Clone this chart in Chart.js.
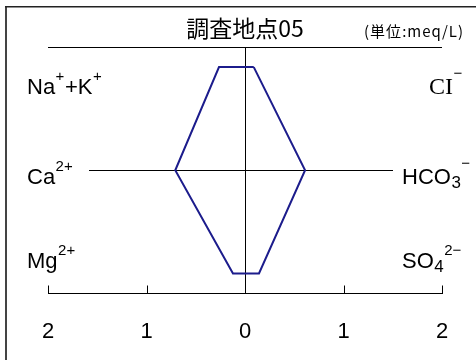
<!DOCTYPE html>
<html><head><meta charset="utf-8">
<script src="https://cdn.jsdelivr.net/npm/chart.js@4.4.1/dist/chart.umd.min.js"></script>
<style>html,body{margin:0;padding:0;background:#fff;} canvas{display:block;}</style>
</head><body>
<canvas id="c" width="476" height="360"></canvas>
<script>
// ---- data ----
const titleText = '調査地点05';
const unitText = '(単位:meq/L)';
// rows top to bottom
const cationNames = [
  [['Na', 'n'], ['+', 'sup'], ['+K', 'n'], ['+', 'sup']],
  [['Ca', 'n'], ['2+', 'sup']],
  [['Mg', 'n'], ['2+', 'sup']]
];
const anionNames = [
  [['CI', 'serif'], ['−', 'supm']],
  [['HCO', 'n'], ['3', 'sub'], ['−', 'supm']],
  [['SO', 'n'], ['4', 'sub'], ['2−', 'sup']]
];
const rows = [0, 1, 2];
const cationValues = [0.264, 0.708, 0.122]; // Na+K, Ca, Mg (meq/L)
const anionValues = [0.089, 0.610, 0.142];  // Cl, HCO3, SO4 (meq/L)
const tickValues = [-2, -1, 0, 1, 2];

// polygon built from values
const polygon = [];
rows.forEach((r, i) => polygon.push({x: anionValues[i], y: r}));
for (let i = rows.length - 1; i >= 0; i--) polygon.push({x: -cationValues[i], y: rows[i]});
polygon.push({x: anionValues[0], y: rows[0]});

const SANS = '"Liberation Sans", Arial, sans-serif';
const SERIF = '"Liberation Serif", "Times New Roman", serif';
const CJK = '"Noto Sans CJK JP", "Noto Sans", sans-serif';

function drawParts(ctx, parts, x, baseline) {
  let cx = x;
  parts.forEach(([t, k]) => {
    let font, dy = 0;
    if (k === 'n') { font = '22px ' + SANS; }
    else if (k === 'serif') { font = '24px ' + SERIF; }
    else if (k === 'sup') { font = '15px ' + SANS; dy = -13; }
    else if (k === 'supm') { font = '15px ' + SANS; dy = -16; }
    else if (k === 'sub') { font = '17px ' + SANS; dy = 4; }
    ctx.font = font;
    ctx.fillText(t, cx, baseline + dy);
    cx += ctx.measureText(t).width + 0.5;
  });
}

const decor = {
  id: 'decor',
  beforeDraw(chart) {
    const ctx = chart.ctx;
    ctx.save();
    ctx.fillStyle = '#fff';
    ctx.fillRect(0, 0, chart.width, chart.height);
    // frame
    ctx.fillStyle = '#444';
    ctx.fillRect(5, 6, 2, chart.height - 6);
    ctx.fillStyle = '#222';
    ctx.fillRect(5, 6, chart.width - 5, 1.5);
    ctx.restore();
  },
  beforeDatasetsDraw(chart) {
    const ctx = chart.ctx, a = chart.chartArea;
    const xs = chart.scales.x, ys = chart.scales.y;
    ctx.save();
    ctx.strokeStyle = '#000';
    ctx.lineWidth = 1;
    const x0 = Math.round(xs.getPixelForValue(0)) + 0.5;
    ctx.beginPath();
    ctx.moveTo(a.left, Math.round(a.top) + 0.5);
    ctx.lineTo(a.right, Math.round(a.top) + 0.5);
    ctx.moveTo(x0, a.top);
    ctx.lineTo(x0, a.bottom);
    const ym = Math.round(ys.getPixelForValue(rows[1])) + 0.5;
    ctx.moveTo(89, ym);
    ctx.lineTo(393, ym);
    xs.ticks.forEach(t => {
      const px = Math.round(xs.getPixelForValue(t.value)) + 0.5;
      ctx.moveTo(px, a.bottom - 8);
      ctx.lineTo(px, a.bottom);
    });
    ctx.stroke();
    ctx.restore();
  },
  afterDraw(chart) {
    const ctx = chart.ctx, a = chart.chartArea;
    const ys = chart.scales.y;
    ctx.save();
    ctx.fillStyle = '#000';
    ctx.font = '23px ' + CJK;
    ctx.textAlign = 'center';
    ctx.textBaseline = 'middle';
    ctx.fillText(titleText, (a.left + a.right) / 2, 28);
    ctx.font = '15px ' + CJK;
    ctx.textAlign = 'left';
    const w = ctx.measureText(unitText).width;
    const target = 100;
    if ('letterSpacing' in ctx && w < target) {
      ctx.letterSpacing = ((target - w) / unitText.length).toFixed(2) + 'px';
    }
    ctx.fillText(unitText, 364, 31);
    ctx.letterSpacing = '0px';
    ctx.textBaseline = 'alphabetic';
    const yRow = rows.map(r => ys.getPixelForValue(r));
    const leftBase = [yRow[0] + 27, yRow[1] + 14, yRow[2] - 5];
    const rightX = [429, 402, 402];
    cationNames.forEach((p, i) => drawParts(ctx, p, 27, leftBase[i]));
    anionNames.forEach((p, i) => drawParts(ctx, p, rightX[i], leftBase[i]));
    ctx.restore();
  }
};

new Chart(document.getElementById('c'), {
  type: 'scatter',
  data: {
    datasets: [{
      data: polygon,
      showLine: true,
      borderColor: '#1c1c8c',
      backgroundColor: '#1c1c8c',
      borderWidth: 2,
      pointRadius: 0,
      tension: 0,
      fill: false
    }]
  },
  options: {
    responsive: false,
    animation: false,
    events: [],
    layout: { padding: { left: 48, right: 34, top: 47, bottom: 15 } },
    plugins: { legend: { display: false }, tooltip: { enabled: false }, title: { display: false } },
    scales: {
      x: {
        type: 'linear', min: -2, max: 2, position: 'bottom',
        afterBuildTicks: s => { s.ticks = tickValues.map(v => ({value: v})); },
        afterFit: s => { s.height = 51.5; },
        grid: { display: false, drawTicks: false, tickLength: 0 },
        border: { display: true, color: '#000', width: 1 },
        ticks: {
          color: '#000', padding: 25,
          font: { family: SANS, size: 22 },
          callback: v => String(Math.abs(v))
        }
      },
      y: {
        type: 'linear', display: false, reverse: true,
        min: -0.195, max: 2.195
      }
    }
  },
  plugins: [decor]
});
</script>
</body></html>
